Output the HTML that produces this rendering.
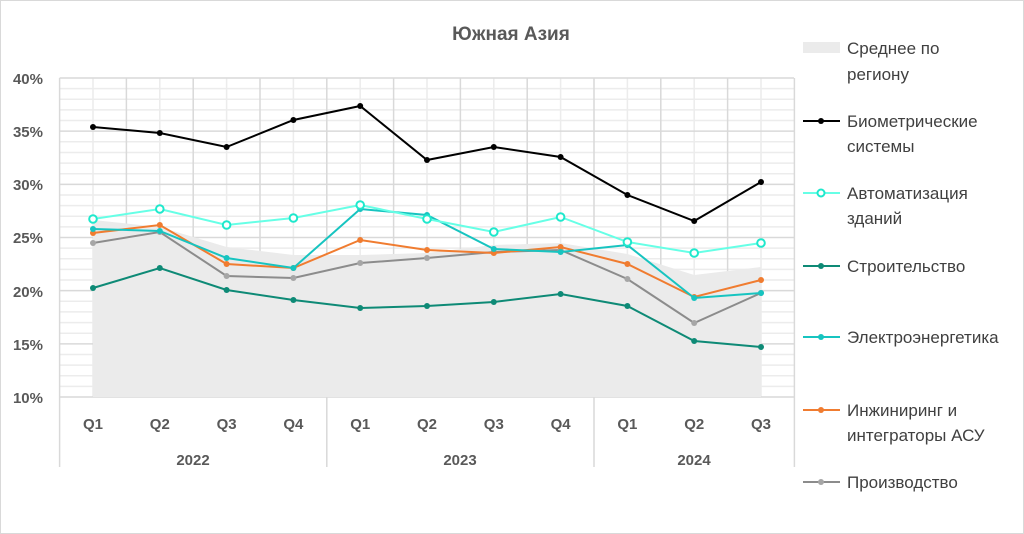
<!DOCTYPE html>
<html><head><meta charset="utf-8"><style>
body{margin:0;background:#fff}
svg{display:block;font-family:"Liberation Sans","Noto Sans CJK SC",sans-serif}
</style></head><body>
<svg width="1024" height="534" viewBox="0 0 1024 534">
<rect x="0.5" y="0.5" width="1023" height="533" fill="#fff" stroke="#d9d9d9"/>
<text x="511" y="40" text-anchor="middle" font-size="19" font-weight="bold" fill="#595959">Южная Азия</text>
<g id="grid"></g>
<g id="area"></g>
<g id="series"></g>
<g fill="#595959" font-size="15" font-weight="bold" text-anchor="end">
<text x="43" y="84">40%</text><text x="43" y="137">35%</text><text x="43" y="190">30%</text>
<text x="43" y="243">25%</text><text x="43" y="297">20%</text><text x="43" y="350">15%</text><text x="43" y="403">10%</text>
</g>
<g fill="#595959" font-size="15" font-weight="bold" text-anchor="middle" id="qlab"></g>
<g fill="#595959" font-size="15" font-weight="bold" text-anchor="middle">
<text x="193" y="465">2022</text><text x="460" y="465">2023</text><text x="694" y="465">2024</text>
</g>
<g font-size="17" fill="#404040">
<rect x="803" y="42" width="37" height="11" fill="#ebebeb"/>
<text x="847" y="54">Среднее по</text><text x="847" y="80">региону</text>
<line x1="803" y1="121" x2="840" y2="121" stroke="#000" stroke-width="2"/><circle cx="821" cy="121" r="3" fill="#000"/>
<text x="847" y="127">Биометрические</text><text x="847" y="152">системы</text>
<line x1="803" y1="193" x2="840" y2="193" stroke="#66ffe6" stroke-width="2"/><circle cx="821" cy="193" r="3.5" fill="#fff" stroke="#1ee8cc" stroke-width="2"/>
<text x="847" y="199">Автоматизация</text><text x="847" y="224">зданий</text>
<line x1="803" y1="266" x2="840" y2="266" stroke="#0e8a76" stroke-width="2"/><circle cx="821" cy="266" r="3" fill="#0e8a76"/>
<text x="847" y="272">Строительство</text>
<line x1="803" y1="337" x2="840" y2="337" stroke="#17c4c0" stroke-width="2"/><circle cx="821" cy="337" r="3" fill="#17c4c0"/>
<text x="847" y="343">Электроэнергетика</text>
<line x1="803" y1="410" x2="840" y2="410" stroke="#f07c30" stroke-width="2"/><circle cx="821" cy="410" r="3" fill="#f07c30"/>
<text x="847" y="416">Инжиниринг и</text><text x="847" y="441">интеграторы АСУ</text>
<line x1="803" y1="482" x2="840" y2="482" stroke="#8c8c8c" stroke-width="2"/><circle cx="821" cy="482" r="3" fill="#a6a6a6"/>
<text x="847" y="488">Производство</text>
</g>
</svg>
<script>
const NS="http://www.w3.org/2000/svg";
function el(p,t,a){const e=document.createElementNS(NS,t);for(const k in a)e.setAttribute(k,a[k]);p.appendChild(e);return e;}
const g=document.getElementById('grid'),ar=document.getElementById('area'),s=document.getElementById('series'),ql=document.getElementById('qlab');
const x0=59.6,dx=66.8,X=i=>93+i*dx,Y=p=>397-(p-10)*10.633;
for(let p=11;p<40;p++){if(p%5)el(g,'line',{x1:x0,x2:794,y1:Y(p),y2:Y(p),stroke:'#ececec','stroke-width':1.5});}
for(let i=0;i<11;i++)el(g,'line',{x1:X(i),x2:X(i),y1:78,y2:397,stroke:'#ececec','stroke-width':1.5});
for(let p=15;p<=40;p+=5)el(g,'line',{x1:x0,x2:794,y1:Y(p),y2:Y(p),stroke:'#d9d9d9','stroke-width':1.5});
for(let i=0;i<=11;i++)el(g,'line',{x1:x0+i*dx,x2:x0+i*dx,y1:78,y2:397,stroke:'#d9d9d9','stroke-width':1.5});
[0,4,8,11].forEach(i=>el(g,'line',{x1:x0+i*dx,x2:x0+i*dx,y1:397,y2:467,stroke:'#d9d9d9','stroke-width':1.5}));
el(g,'line',{x1:x0,x2:794,y1:397,y2:397,stroke:'#d9d9d9','stroke-width':1.5});
const qs=['Q1','Q2','Q3','Q4','Q1','Q2','Q3','Q4','Q1','Q2','Q3'];
qs.forEach((q,i)=>{const t=el(ql,'text',{x:X(i),y:429});t.textContent=q;});
const A=[220,227,247,255,255,253,245,243,254,275,267];
let d='M'+X(0)+' 397';A.forEach((y,i)=>d+=' L'+X(i)+' '+y);d+=' L'+X(10)+' 397Z';
el(ar,'path',{d,fill:'#ebebeb'});
const S=[
['#8c8c8c','#a6a6a6',[243,232,276,278,263,258,252,250,279,323,293],0],
['#f07c30','#f07c30',[233,225,264,268,240,250,253,247,264,297,280],0],
['#17c4c0','#17c4c0',[229,231,258,268,209,215,249,252,245,298,293],0],
['#0e8a76','#0e8a76',[288,268,290,300,308,306,302,294,306,341,347],0],
['#66ffe6','#1ee8cc',[219,209,225,218,205,219,232,217,242,253,243],1],
['#000','#000',[127,133,147,120,106,160,147,157,195,221,182],0]];
S.forEach(([c,m,ys,open])=>{el(s,'polyline',{points:ys.map((y,i)=>X(i)+','+y).join(' '),fill:'none',stroke:c,'stroke-width':2});
ys.forEach((y,i)=>open?el(s,'circle',{cx:X(i),cy:y,r:3.8,fill:'#fff',stroke:m,'stroke-width':2}):el(s,'circle',{cx:X(i),cy:y,r:3,fill:m}));});
</script>
</body></html>
